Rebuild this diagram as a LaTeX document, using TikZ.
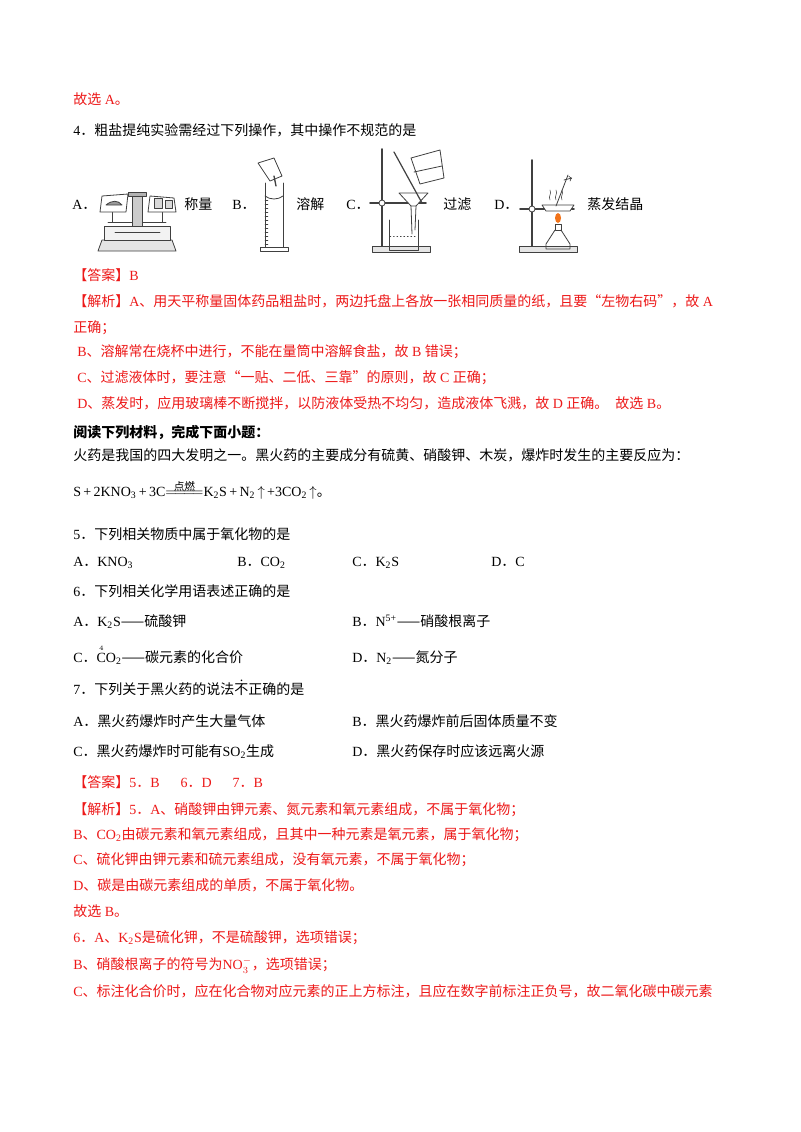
\documentclass[tikz,border=0pt]{standalone}
\usepackage{amsmath}
\usepackage{fontspec}
\usepackage{tikz}
\setmainfont{Liberation Serif}
\newfontfamily\cjk{Noto Sans CJK SC}
\definecolor{ansred}{rgb}{0.93,0.1,0.1}
\definecolor{flame}{rgb}{0.95,0.45,0.1}
% switch to the CJK family for Chinese characters
\XeTeXinterchartokenstate=1
\newXeTeXintercharclass\cjkclass
\count255="4E00
\loop\XeTeXcharclass\count255=\cjkclass\advance\count255 by 1 \ifnum\count255<"9FA6\repeat
\count255="3000
\loop\XeTeXcharclass\count255=\cjkclass\advance\count255 by 1 \ifnum\count255<"3040\repeat
\count255="FF00
\loop\XeTeXcharclass\count255=\cjkclass\advance\count255 by 1 \ifnum\count255<"FF20\repeat
\XeTeXcharclass"201C=\cjkclass \XeTeXcharclass"201D=\cjkclass \XeTeXcharclass"2014=\cjkclass
\XeTeXinterchartoks 0 \cjkclass={\cjk}
\XeTeXinterchartoks 4095 \cjkclass={\cjk}
\XeTeXinterchartoks \cjkclass 0={\rmfamily}
\XeTeXinterchartoks \cjkclass 4095={\rmfamily}
\newcommand{\ignite}{\shortstack[c]{{\footnotesize 点燃}\\[-3pt]$=\joinrel=\joinrel=\joinrel=$}}
\tikzset{every node/.style={font=\fontsize{10.5}{13}\selectfont,inner sep=0pt,anchor=base west,yshift=-3.5pt}}
\tikzstyle{txt}=[text=black]
\tikzstyle{ans}=[text=ansred]
\tikzstyle{app}=[line width=0.6pt,draw=black!75]

\begin{document}
\begin{tikzpicture}[line cap=round,line join=round,x=0.75pt,y=-0.75pt]
        \useasboundingbox[fill=white] (0,0) rectangle (800,1132);
        \node[ans] (l1) at (73,100) {故选 A。};
        \node[txt] (l2) at (73,131) {4．粗盐提纯实验需经过下列操作，其中操作不规范的是};
        % apparatus row
        \node[txt] (oa) at (72,205) {A．};
        \node[txt] (ta) at (184,205) {称量};
        \node[txt] (ob) at (232,205) {B．};
        \node[txt] (tb) at (296,205) {溶解};
        \node[txt] (oc) at (346,205) {C．};
        \node[txt] (tc) at (443,205) {过滤};
        \node[txt] (od) at (494,205) {D．};
        \node[txt] (td) at (587,205) {蒸发结晶};
        % balance
        \draw[app,fill=black!10] (98,251) -- (176,251) -- (172,240) -- (102,240) -- cycle;
        \draw[app,fill=black!5] (104,240) rectangle (170,226);
        \draw[app] (108,222) -- (166,222);
        \draw[app,fill=black!20] (132,226) rectangle (142,196);
        \draw[app,fill=black!30] (128,196) rectangle (146,192);
        \draw[app] (112,222) -- (112,212);
        \draw[app] (162,222) -- (162,212);
        \draw[app,fill=white] (100,212) -- (126,212) -- (128,194) -- (102,196) -- cycle;
        \draw[app,fill=black!40] (106,205) .. controls (112,200) and (118,200) .. (122,205) -- cycle;
        \draw[app,fill=white] (148,212) -- (176,212) -- (174,198) -- (150,196) -- cycle;
        \draw[app,fill=black!15] (154,208) rectangle (162,198);
        \draw[app,fill=black!15] (165,208) rectangle (172,200);
        \draw[app] (115,232) -- (160,232);
        % measuring cylinder
        \draw[app] (265,183) -- (265,247);
        \draw[app] (283,183) -- (283,247);
        \draw[app] (260,247) rectangle (288,251);
        \draw[app] (265,196) .. controls (270,200) and (278,200) .. (283,196);
        \foreach \ty in {200,204,...,244} \draw[app,line width=0.3pt] (265,\ty) -- (268,\ty);
        \draw[app,fill=white] (258,163) -- (274,158) -- (282,176) -- (270,181) -- cycle;
        \draw[app,line width=1pt] (274,176) -- (276,186);
        % filtration
        \draw[app,fill=black!10] (372,246) rectangle (430,252);
        \draw[app,line width=1.2pt] (382,149) -- (382,246);
        \draw[app,line width=1.2pt] (370,203) -- (426,203);
        \draw[app,fill=white] (382,203) circle (3);
        \draw[app,fill=white] (399,193) -- (428,193) -- (416,206) -- (411,206) -- cycle;
        \draw[app] (411,206) -- (412,234);
        \draw[app] (416,206) -- (415,230);
        \draw[app] (389,220) -- (389,250) -- (418,250) -- (418,220);
        \draw[app,dotted] (390,236) -- (417,236);
        \draw[app,line width=0.9pt] (394,152) -- (422,203);
        \draw[app,fill=white] (411,158) -- (440,150) -- (444,178) -- (420,184) -- cycle;
        \draw[app] (414,172) -- (442,166);
        % evaporation
        \draw[app,fill=black!10] (519,246) rectangle (577,252);
        \draw[app,line width=1.2pt] (532,160) -- (532,246);
        \draw[app,line width=1.2pt] (520,209) -- (574,209);
        \draw[app,fill=white] (532,209) circle (3);
        \draw[app,fill=white] (542,205) -- (574,205) -- (570,211) -- (546,211) -- cycle;
        \fill[flame] (558,218) ellipse (3 and 5);
        \draw[app] (555,224) rectangle (561,230);
        \draw[app] (555,230) -- (546,244) -- (546,249) -- (570,249) -- (570,244) -- (561,230);
        \draw[app] (568,175) -- (556,206);
        \draw[app,->] (564,180) -- (572,178);
        \foreach \sx in {550,556,562} \draw[app,line width=0.4pt] (\sx,200) .. controls (\sx-2,196) and (\sx+2,194) .. (\sx,190);
        % answer and analysis
        \node[ans] (l3) at (73,276) {【答案】B};
        \node[ans] (l4) at (73,302) {【解析】A、用天平称量固体药品粗盐时，两边托盘上各放一张相同质量的纸，且要“左物右码”，故 A};
        \node[ans] (l5) at (73,328) {正确；};
        \node[ans] (l6) at (77,352) {B、溶解常在烧杯中进行，不能在量筒中溶解食盐，故 B 错误；};
        \node[ans] (l7) at (77,378) {C、过滤液体时，要注意“一贴、二低、三靠”的原则，故 C 正确；};
        \node[ans] (l8) at (77,404) {D、蒸发时，应用玻璃棒不断搅拌，以防液体受热不均匀，造成液体飞溅，故 D 正确。\ \ 故选 B。};
        \node[txt,font=\fontsize{10.5}{13}\selectfont\bfseries] (l9) at (73,433) {阅读下列材料，完成下面小题：};
        \node[txt] (l10) at (73,456) {火药是我国的四大发明之一。黑火药的主要成分有硫黄、硝酸钾、木炭，爆炸时发生的主要反应为：};
        \node[txt] (eq) at (73,492) {S\,+\,2KNO\textsubscript{3}\,+\,3C\ignite K\textsubscript{2}S\,+\,N\textsubscript{2}\,$\uparrow$\,+3CO\textsubscript{2}\,$\uparrow$。};
        \node[txt] (q5) at (73,535) {5．下列相关物质中属于氧化物的是};
        \node[txt] (q5a) at (73,562) {A．KNO\textsubscript{3}};
        \node[txt] (q5b) at (237,562) {B．CO\textsubscript{2}};
        \node[txt] (q5c) at (352,562) {C．K\textsubscript{2}S};
        \node[txt] (q5d) at (491,562) {D．C};
        \node[txt] (q6) at (73,592) {6．下列相关化学用语表述正确的是};
        \node[txt] (q6a) at (73,622) {A．K\textsubscript{2}S——硫酸钾};
        \node[txt] (q6b) at (352,622) {B．N\textsuperscript{5+}——硝酸根离子};
        \node[txt] (q6c) at (73,658) {C．$\overset{\scriptscriptstyle 4}{\mathrm{C}}$O\textsubscript{2}——碳元素的化合价};
        \node[txt] (q6d) at (352,658) {D．N\textsubscript{2}——氮分子};
        \node[txt] (q7) at (73,690) {7．下列关于黑火药的说法\rlap{\raisebox{0.95em}{\kern0.4em.}}不正确的是};
        \node[txt] (q7a) at (73,722) {A．黑火药爆炸时产生大量气体};
        \node[txt] (q7b) at (352,722) {B．黑火药爆炸前后固体质量不变};
        \node[txt] (q7c) at (73,752) {C．黑火药爆炸时可能有SO\textsubscript{2}生成};
        \node[txt] (q7d) at (352,752) {D．黑火药保存时应该远离火源};
        \node[ans] (r1) at (73,783) {【答案】5．B\quad\ \ 6．D\quad\ \ 7．B};
        \node[ans] (r2) at (73,810) {【解析】5．A、硝酸钾由钾元素、氮元素和氧元素组成，不属于氧化物；};
        \node[ans] (r3) at (73,835) {B、CO\textsubscript{2}由碳元素和氧元素组成，且其中一种元素是氧元素，属于氧化物；};
        \node[ans] (r4) at (73,860) {C、硫化钾由钾元素和硫元素组成，没有氧元素，不属于氧化物；};
        \node[ans] (r5) at (73,886) {D、碳是由碳元素组成的单质，不属于氧化物。};
        \node[ans] (r6) at (73,912) {故选 B。};
        \node[ans] (r7) at (73,938) {6．A、K\textsubscript{2}S是硫化钾，不是硫酸钾，选项错误；};
        \node[ans] (r8) at (73,965) {B、硝酸根离子的符号为NO$_3^-$，选项错误；};
        \node[ans] (r9) at (73,992) {C、标注化合价时，应在化合物对应元素的正上方标注，且应在数字前标注正负号，故二氧化碳中碳元素};
\end{tikzpicture}
\end{document}
